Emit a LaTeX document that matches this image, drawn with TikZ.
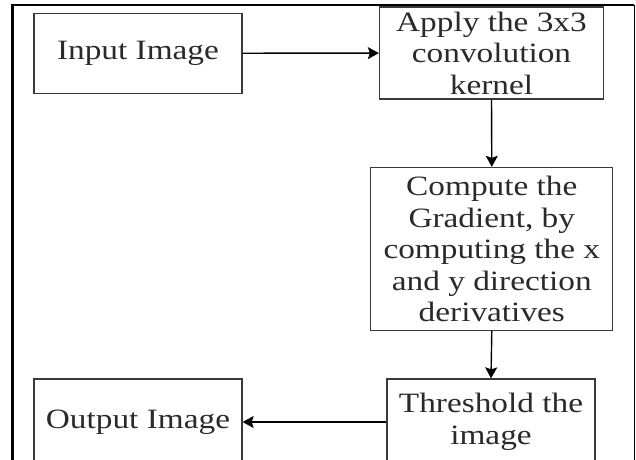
\documentclass[tikz,border=0pt]{standalone}
\usepackage{fontspec}
\setmainfont{Liberation Serif}[FakeStretch=1.19]
\usetikzlibrary{arrows.meta}
\definecolor{boxline}{HTML}{3A3A3A}
\definecolor{txt}{HTML}{2A2A2A}
\tikzset{
  x=1pt, y=-1pt,
  box/.style={draw=boxline, line width=1.3pt, inner sep=0pt, align=center,
    text=txt, font=\fontsize{28}{31.5}\selectfont},
  arr/.style={draw=black, line width=1.4pt,
    -{Stealth[length=11pt,width=12pt,inset=2pt]}},
  frameline/.style={draw=black, line width=2.6pt},
}
\begin{document}
\begin{tikzpicture}
\useasboundingbox (0,0) rectangle (636,459);
\clip (0,0) rectangle (636,459);
\fill[white] (0,0) rectangle (636,459);
% outer frame
\coordinate (ftl) at (12.5,5);
\coordinate (ftr) at (634,5);
\coordinate (fbl) at (12.5,470);
\coordinate (fbr) at (634,470);
\draw[frameline] (fbl) -- (ftl) -- (ftr);
\draw[black, line width=1pt] (ftr) -- (fbr);
% boxes
\node[box, minimum width=208pt, minimum height=80pt] (in) at (138,53.3) {Input Image};
\node[box, minimum width=224pt, minimum height=92pt] (apply) at (491.5,53) {Apply the 3x3\\convolution\\kernel};
\node[box, minimum width=242pt, minimum height=163pt] (grad) at (491.8,249) {Compute the\\Gradient, by\\computing the x\\and y direction\\derivatives};
\node[box, minimum width=208pt, minimum height=86pt] (thr) at (491,422) {Threshold the\\image};
\node[box, minimum width=208pt, minimum height=86pt] (out) at (138,422) {Output Image};
% connectors
\draw[arr] (in) -- (apply);
\draw[arr] (apply.south) -- (grad.north);
\draw[arr] (grad.south) -- (thr.north);
\draw[arr] (thr) -- (out);
\end{tikzpicture}
\end{document}
